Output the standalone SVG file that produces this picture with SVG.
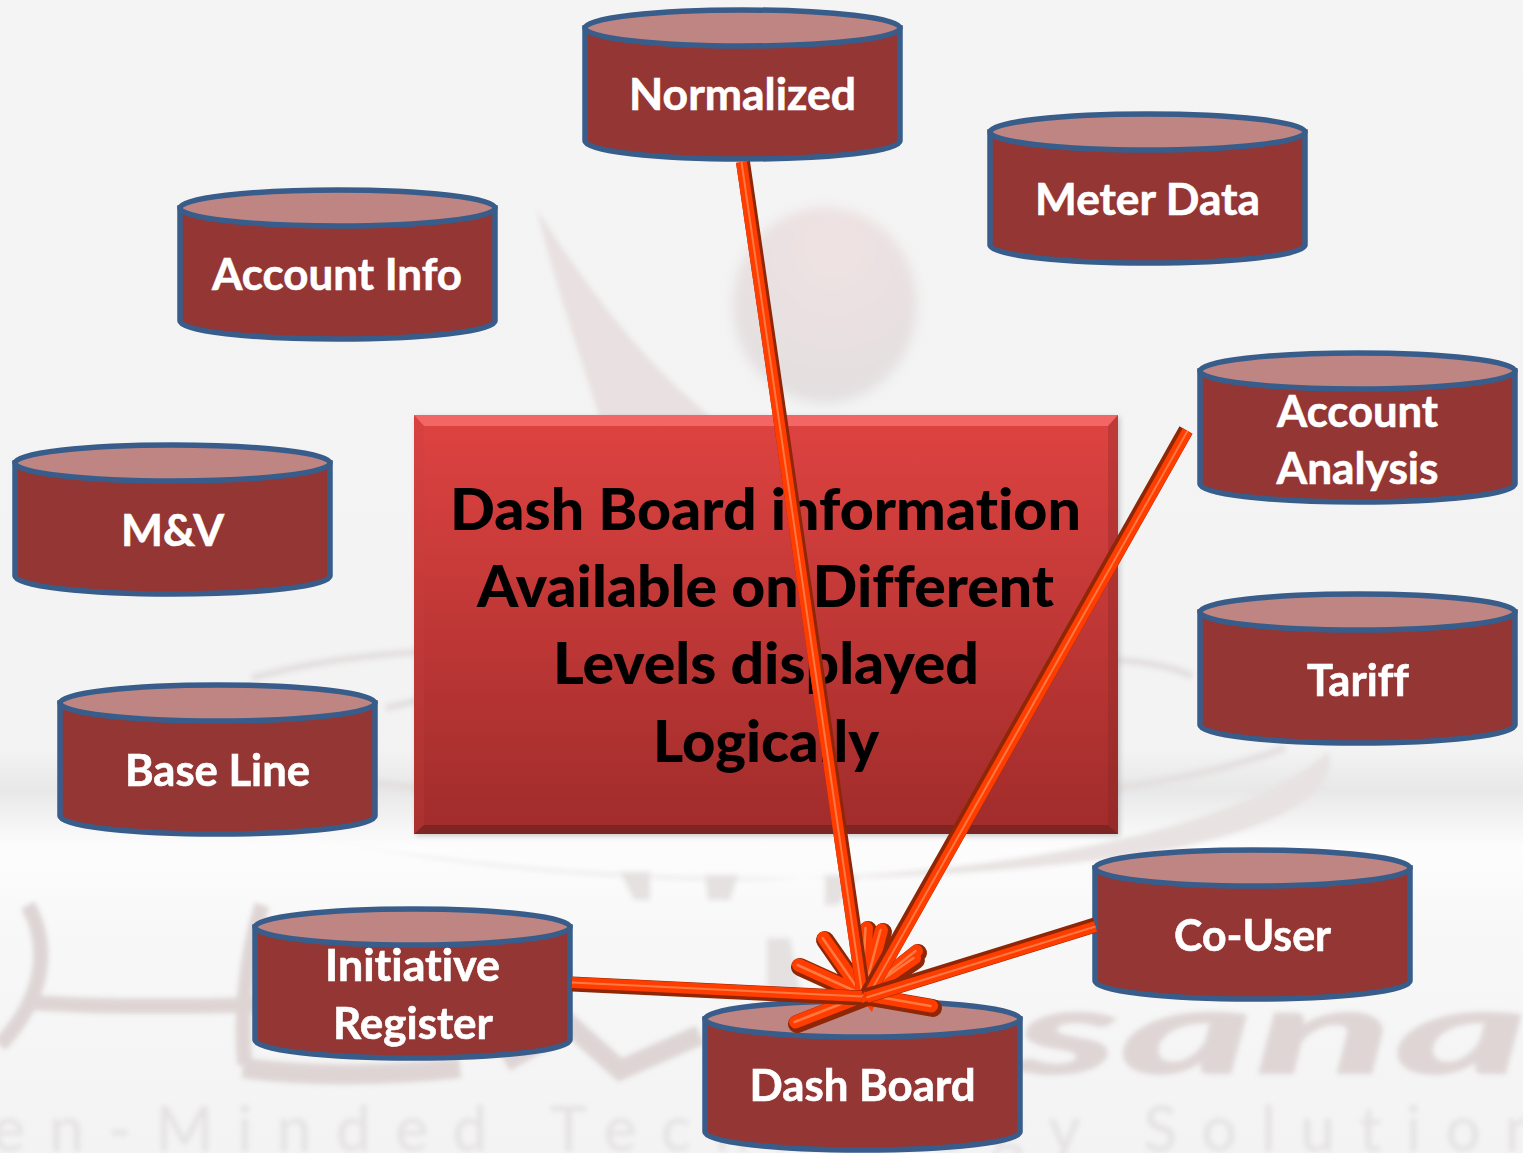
<svg xmlns="http://www.w3.org/2000/svg" width="1523" height="1153" viewBox="0 0 1523 1153">
<style>
text{font-variant-ligatures:none}
.lbl{font-family:"Lato","Liberation Sans",sans-serif;font-weight:700;font-size:44px;fill:#fff;stroke:#fff;stroke-width:.6;text-anchor:middle}
.ttl{font-family:"Lato","Liberation Sans",sans-serif;font-weight:900;font-size:58px;fill:#000;text-anchor:middle}
.wm{font-family:"Lato","Liberation Sans",sans-serif}
.b,.d,.l{fill:none;stroke-linecap:round}
.d{stroke:#8f2606;stroke-width:18}
.b{stroke:#ff3d00;stroke-width:13}
.l{stroke:#ff7a40;stroke-width:2.5}
.t{stroke-linecap:butt}
</style>
<defs>
<linearGradient id="bg" x1="0" y1="0" x2="0" y2="1"><stop offset="0" stop-color="#f4f4f4"/><stop offset=".65" stop-color="#f3f3f3"/><stop offset=".685" stop-color="#e8e8e8"/><stop offset=".735" stop-color="#fdfdfd"/><stop offset=".8" stop-color="#f8f8f8"/><stop offset="1" stop-color="#f3f3f3"/></linearGradient>
<linearGradient id="rg" x1="0" y1="0" x2="0" y2="1"><stop offset="0" stop-color="#de4341"/><stop offset="1" stop-color="#a02c2b"/></linearGradient>
<radialGradient id="ball" cx=".55" cy=".2" r=".85"><stop offset="0" stop-color="#f0e2e2"/><stop offset="1" stop-color="#e2dfe0"/></radialGradient>
<filter id="blur" x="-5%" y="-5%" width="110%" height="110%"><feGaussianBlur stdDeviation="2.5"/></filter>
<filter id="blur2" x="-20%" y="-20%" width="140%" height="140%"><feGaussianBlur stdDeviation="6"/></filter>
<g id="cyl" stroke="#385d8a" stroke-width="5.5">
<path d="M0 0V113A157.5 18 0 0 0 315 113V0Z" fill="#943634"/>
<ellipse cx="157.5" cy="0" rx="157.5" ry="18" fill="#bf8582"/>
</g>
<path id="stubs" d="M825 940L864 996M800 967L864 996M797 1024L864 998M933 1008L864 996M918 953L864 996M916 960L864 996M868 930L864 996M883 932L866 996"/>
<path id="cn" d="M743 162L864 996"/>
<path id="ca" d="M1186 430L866 996"/>
<path id="cc" d="M1095 925L866 996"/>
<path id="ci" d="M572 984L862 998"/>
</defs>
<rect width="1523" height="1153" fill="url(#bg)"/>
<g id="watermark">
<path d="M537 210C556 290 585 370 600 420L715 420C640 360 590 290 537 210Z" fill="#e9e1e1" filter="url(#blur)"/>
<ellipse cx="825" cy="305" rx="92" ry="98" fill="url(#ball)" filter="url(#blur2)"/>
<g filter="url(#blur)">
<path d="M252 678C300 665 360 655 420 652M386 708L420 700M376 783L420 788M1115 660C1150 662 1175 668 1192 676M1115 788C1180 780 1240 765 1285 748" fill="none" stroke="#e3dfdf" stroke-width="7"/>
<path d="M320 840C480 870 620 878 720 880C950 880 1230 840 1328 752C1345 800 1240 845 1100 860C900 885 600 890 320 840Z" fill="#e8e2e2"/>
<path d="M620 872H650V900H634ZM705 875H738L730 900H708ZM825 875H860L838 905H825ZM767 938H790L800 990L767 1000Z" fill="#e5e1e1"/>
<path d="M28 905C52 950 42 1000 0 1045M25 1002C100 1008 180 1006 260 1005M262 905C245 960 240 1020 245 1065" fill="none" stroke="#ded4d4" stroke-width="15"/>
<path d="M243 1068C320 1078 390 1075 460 1068M505 1062L570 1025L620 1070L700 1035" fill="none" stroke="#ded4d4" stroke-width="20"/>
<text class="wm" transform="translate(1015 1074) scale(2.05 .95)" font-size="125" font-weight="900" font-style="italic" fill="#dfd5d5">sana</text>
<text class="wm" x="-8" y="1151" font-size="62" letter-spacing="24.5" fill="#e4e1e1">en-Minded Technology Solution</text>
</g>
</g>
<g id="node-center">
<rect x="416" y="417" width="704" height="419" fill="#888" opacity=".4" filter="url(#blur)"/>
<rect x="414" y="415" width="704" height="419" fill="url(#rg)"/>
<path d="M414 415H1118L1108 426H424Z" fill="#f26765"/>
<path d="M414 834H1118L1108 825H424Z" fill="#7e2423"/>
<path d="M414 415V834L424 825V426Z" fill="#c8403e" opacity=".25"/>
<path d="M1118 415V834L1108 825V426Z" fill="#7e2423" opacity=".3"/>
<text class="ttl" x="765.5" y="530" textLength="631" lengthAdjust="spacingAndGlyphs">Dash Board information</text>
<text class="ttl" x="765.5" y="607" textLength="577" lengthAdjust="spacingAndGlyphs">Available on Different</text>
<text class="ttl" x="766" y="684" textLength="426" lengthAdjust="spacingAndGlyphs">Levels displayed</text>
<text class="ttl" x="766" y="762" textLength="226" lengthAdjust="spacingAndGlyphs">Logically</text>
</g>
<g id="node-normalized"><use href="#cyl" x="585" y="28"/><text class="lbl" x="742.5" y="110" textLength="227" lengthAdjust="spacingAndGlyphs">Normalized</text></g>
<g id="node-meter"><use href="#cyl" x="990" y="132"/><text class="lbl" x="1147.5" y="215" textLength="225" lengthAdjust="spacingAndGlyphs">Meter Data</text></g>
<g id="node-account"><use href="#cyl" x="180" y="208"/><text class="lbl" x="337" y="290" textLength="250" lengthAdjust="spacingAndGlyphs">Account Info</text></g>
<g id="node-analysis"><use href="#cyl" x="1200" y="371"/><text class="lbl" x="1357.5" y="427" textLength="161" lengthAdjust="spacingAndGlyphs">Account</text><text class="lbl" x="1357.5" y="484" textLength="162" lengthAdjust="spacingAndGlyphs">Analysis</text></g>
<g id="node-mv"><use href="#cyl" x="15" y="463"/><text class="lbl" x="172.5" y="546" textLength="103" lengthAdjust="spacingAndGlyphs">M&amp;V</text></g>
<g id="node-tariff"><use href="#cyl" x="1200" y="612"/><text class="lbl" x="1358" y="696" textLength="102" lengthAdjust="spacingAndGlyphs">Tariff</text></g>
<g id="node-baseline"><use href="#cyl" x="60" y="703"/><text class="lbl" x="217.5" y="786" textLength="185" lengthAdjust="spacingAndGlyphs">Base Line</text></g>
<g id="node-initiative"><use href="#cyl" x="255" y="927"/><text class="lbl" x="412.5" y="981" textLength="175" lengthAdjust="spacingAndGlyphs">Initiative</text><text class="lbl" x="413" y="1039" textLength="160" lengthAdjust="spacingAndGlyphs">Register</text></g>
<g id="node-couser"><use href="#cyl" x="1095" y="868"/><text class="lbl" x="1252.5" y="951" textLength="157" lengthAdjust="spacingAndGlyphs">Co-User</text></g>
<g id="node-dashboard"><use href="#cyl" x="705" y="1019"/><text class="lbl" x="862.5" y="1101" textLength="226" lengthAdjust="spacingAndGlyphs">Dash Board</text></g>
<g id="connectors">
<path d="M860 997L876 1000L872 1012Z" fill="#ff3d00"/>
<use href="#stubs" class="d"/><use href="#stubs" class="b" transform="translate(-1.5 -2)"/><use href="#stubs" class="l" transform="translate(-2.5 -2)"/>
<g id="c-normalized"><use href="#cn" class="d t" style="stroke-width:14"/><use href="#cn" class="b t" transform="translate(-1.5 0)" style="stroke-width:11"/><use href="#cn" class="l t" transform="translate(-1.5 0)" style="stroke-width:2"/></g>
<g id="c-analysis"><use href="#ca" class="d t" style="stroke-width:15"/><use href="#ca" class="b t" transform="translate(1.5 1)" style="stroke-width:11"/><use href="#ca" class="l t" transform="translate(1.5 1)" style="stroke-width:2"/></g>
<g id="c-couser"><use href="#cc" class="d t" style="stroke-width:15"/><use href="#cc" class="b t" transform="translate(.5 1.5)" style="stroke-width:11"/><use href="#cc" class="l t" transform="translate(.5 1.5)" style="stroke-width:2"/></g>
<g id="c-initiative"><use href="#ci" class="d t" style="stroke-width:15"/><use href="#ci" class="b t" transform="translate(0 -1.5)" style="stroke-width:11"/><use href="#ci" class="l t" transform="translate(0 -1.5)" style="stroke-width:2"/></g>
</g>
</svg>
